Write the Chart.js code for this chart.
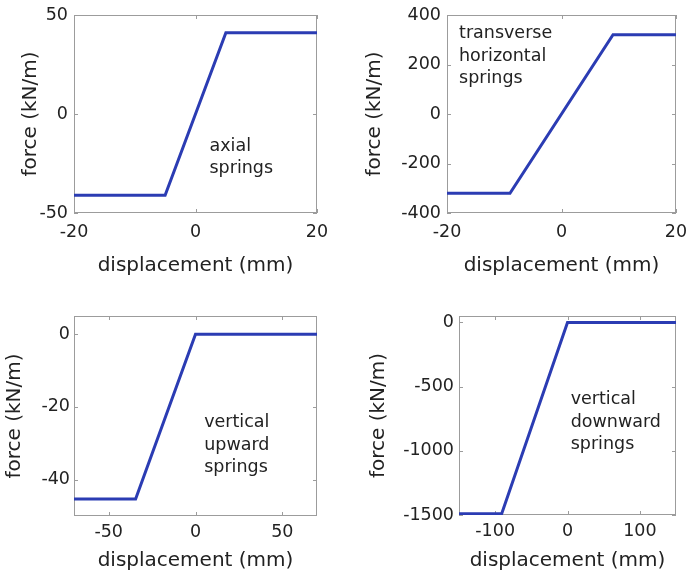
<!DOCTYPE html>
<html>
<head>
<meta charset="utf-8">
<script src="https://cdn.jsdelivr.net/npm/chart.js@4.4.1/dist/chart.umd.min.js"></script>
<style>
  html, body { margin: 0; padding: 0; background: #fff; }
  #wrap { position: relative; width: 687px; height: 579px; overflow: hidden; }
  canvas { position: absolute; }
</style>
</head>
<body>
<div id="wrap">
  <canvas id="c1" width="343" height="290" style="left:0;top:0"></canvas>
  <canvas id="c2" width="344" height="290" style="left:343px;top:0"></canvas>
  <canvas id="c3" width="343" height="289" style="left:0;top:290px"></canvas>
  <canvas id="c4" width="344" height="289" style="left:343px;top:290px"></canvas>
</div>
<script>
// spring curves: displacement (mm) vs force (kN/m)
const axialDisp = [-20, -5, 5, 20];
const axialForce = [-41, -41, 41, 41];
const axialXTicks = [-20, 0, 20];
const axialYTicks = [-50, 0, 50];

const transDisp = [-20, -9, 9, 20];
const transForce = [-320, -320, 320, 320];
const transXTicks = [-20, 0, 20];
const transYTicks = [-400, -200, 0, 200, 400];

const upDisp = [-70, -34.5, 0, 70];
const upForce = [-45.3, -45.3, 0, 0];
const upXTicks = [-50, 0, 50];
const upYTicks = [-40, -20, 0];

const downDisp = [-150, -91, 0, 150];
const downForce = [-1490, -1490, 0, 0];
const downXTicks = [-100, 0, 100];
const downYTicks = [-1500, -1000, -500, 0];

const FONT = "'DejaVu Sans', sans-serif";
const TEXT = '#222';
const LINE = '#2b3cb3';
const FRAME = '#9c9c9c';

// frame box with inward ticks, like the old matlab plots
const framePlugin = {
  id: 'frame',
  beforeDatasetsDraw(chart) {
    const { ctx, chartArea: a, scales: { x, y } } = chart;
    ctx.save();
    ctx.strokeStyle = FRAME;
    ctx.lineWidth = 1;
    ctx.strokeRect(a.left + 0.5, a.top + 0.5, a.right - a.left - 1, a.bottom - a.top - 1);
    ctx.beginPath();
    x.ticks.forEach(t => {
      const px = Math.round(x.getPixelForValue(t.value)) + 0.5;
      ctx.moveTo(px, a.bottom); ctx.lineTo(px, a.bottom - 4);
      ctx.moveTo(px, a.top); ctx.lineTo(px, a.top + 4);
    });
    y.ticks.forEach(t => {
      const py = Math.round(y.getPixelForValue(t.value)) + 0.5;
      ctx.moveTo(a.left, py); ctx.lineTo(a.left + 4, py);
      ctx.moveTo(a.right, py); ctx.lineTo(a.right - 4, py);
    });
    ctx.stroke();
    ctx.restore();
  },
  afterDatasetsDraw(chart) {
    const note = chart.options.plugins.frame;
    if (!note) return;
    const { ctx, scales: { x, y } } = chart;
    ctx.save();
    ctx.font = '17.5px ' + FONT;
    ctx.fillStyle = TEXT;
    ctx.textAlign = 'left';
    ctx.textBaseline = 'alphabetic';
    const px = x.getPixelForValue(note.x);
    const py = y.getPixelForValue(note.y);
    note.lines.forEach((s, i) => ctx.fillText(s, px, py + i * 22.5));
    ctx.restore();
  }
};

function makePanel(id, disp, force, xr, yr, xTicks, yTicks, box, note) {
  new Chart(document.getElementById(id), {
    type: 'line',
    data: {
      datasets: [{
        data: disp.map((d, i) => ({ x: d, y: force[i] })),
        borderColor: LINE,
        borderWidth: 3,
        pointRadius: 0,
        tension: 0,
        fill: false
      }]
    },
    options: {
      responsive: false,
      animation: false,
      layout: { padding: { left: 0, top: box.padTop, right: box.padRight, bottom: 0 } },
      plugins: { legend: { display: false }, tooltip: { enabled: false }, frame: note },
      scales: {
        x: {
          type: 'linear',
          min: xr[0], max: xr[1],
          afterBuildTicks: s => { s.ticks = xTicks.map(v => ({ value: v })); },
          afterFit: s => { s.height = box.xHeight; s.paddingLeft = 0; s.paddingRight = 0; },
          grid: { display: false, drawTicks: false },
          border: { display: false },
          ticks: { color: TEXT, font: { family: FONT, size: 17.5 }, padding: box.xTickPad, maxRotation: 0, callback: v => String(v) },
          title: { display: true, text: 'displacement (mm)', color: TEXT, font: { family: FONT, size: 20 }, padding: { top: 0, bottom: box.xTitlePad } }
        },
        y: {
          type: 'linear',
          min: yr[0], max: yr[1],
          afterBuildTicks: s => { s.ticks = yTicks.map(v => ({ value: v })); },
          afterFit: s => { s.width = box.yWidth; s.paddingTop = 0; s.paddingBottom = 0; },
          grid: { display: false, drawTicks: false },
          border: { display: false },
          ticks: { color: TEXT, font: { family: FONT, size: 17.5 }, padding: box.yTickPad, callback: v => String(v) },
          title: { display: true, text: 'force (kN/m)', color: TEXT, font: { family: FONT, size: 20 }, padding: { top: box.yTitlePad, bottom: 0 } }
        }
      }
    },
    plugins: [framePlugin]
  });
}

makePanel('c1', axialDisp, axialForce, [-20, 20], [-50, 50], axialXTicks, axialYTicks,
  { padTop: 15, padRight: 26, xHeight: 77, yWidth: 74, xTitlePad: 12, yTitlePad: 18.5, yTickPad: 6, xTickPad: 9 },
  { x: 2.3, y: -18.5, lines: ['axial', 'springs'] });

makePanel('c2', transDisp, transForce, [-20, 20], [-400, 400], transXTicks, transYTicks,
  { padTop: 15, padRight: 11, xHeight: 77, yWidth: 104, xTitlePad: 12, yTitlePad: 20, yTickPad: 6, xTickPad: 9 },
  { x: -17.9, y: 306, lines: ['transverse', 'horizontal', 'springs'] });

makePanel('c3', upDisp, upForce, [-70, 70], [-50, 5], upXTicks, upYTicks,
  { padTop: 26, padRight: 26, xHeight: 63, yWidth: 74, xTitlePad: 6, yTitlePad: 3, yTickPad: 4, xTickPad: 6 },
  { x: 5, y: -25.6, lines: ['vertical', 'upward', 'springs'] });

makePanel('c4', downDisp, downForce, [-150, 150], [-1500, 50], downXTicks, downYTicks,
  { padTop: 26, padRight: 11, xHeight: 64, yWidth: 116, xTitlePad: 6, yTitlePad: 24, yTickPad: 5, xTickPad: 6 },
  { x: 4.4, y: -638, lines: ['vertical', 'downward', 'springs'] });
</script>
</body>
</html>
